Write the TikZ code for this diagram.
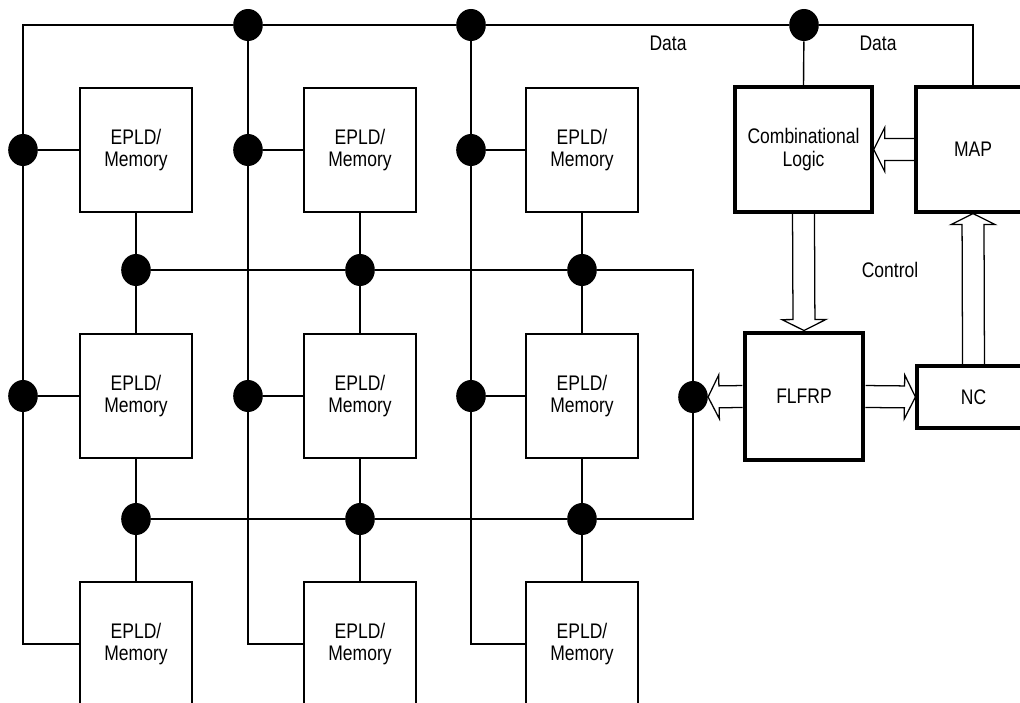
\documentclass[tikz,border=0pt]{standalone}
\usepackage{fontspec}
\newfontfamily\diagfont[FakeStretch=0.83]{Liberation Sans}
\usetikzlibrary{calc,shapes.geometric}

\begin{document}
\begin{tikzpicture}[
  x=0.025cm, y=-0.025cm,
  font=\diagfont\fontsize{15}{16}\selectfont,
  wire/.style={line width=1pt},
  memNode/.style={
    draw, line width=1pt, align=center, inner sep=0pt,
    minimum width=2.8cm, minimum height=3.1cm
  },
  blockNode/.style={
    draw, align=center, inner sep=0pt
  },
  dotNode/.style={
    ellipse, fill=black, inner sep=0pt,
    minimum width=0.74cm, minimum height=0.8cm
  },
  fat/.style={line width=0.9pt, to path={
    let \p1=(\tikztostart), \p2=(\tikztotarget),
        \n1={veclen(\x2-\x1,\y2-\y1)},
        \n2={(\x2-\x1)/\n1}, \n3={(\y2-\y1)/\n1},
        \n4={\n1-7.8} in
    ({\x1-\n3*7.8pt},{\y1+\n2*7.8pt})
    -- ({\x1+\n2*\n4*1pt-\n3*7.8pt},{\y1+\n3*\n4*1pt+\n2*7.8pt})
    -- ({\x1+\n2*\n4*1pt-\n3*15.6pt},{\y1+\n3*\n4*1pt+\n2*15.6pt})
    -- (\p2)
    -- ({\x1+\n2*\n4*1pt+\n3*15.6pt},{\y1+\n3*\n4*1pt-\n2*15.6pt})
    -- ({\x1+\n2*\n4*1pt+\n3*7.8pt},{\y1+\n3*\n4*1pt-\n2*7.8pt})
    -- ({\x1+\n3*7.8pt},{\y1-\n2*7.8pt})
  }}
]

\useasboundingbox (0,0) rectangle (1020,703);
\clip (0,0) rectangle (1020,703);

% --- EPLD/Memory grid ---
\foreach \r/\ry in {1/150, 2/396, 3/644}{
  \foreach \c/\cx in {1/136, 2/360, 3/582}{
    \node[memNode] (E\r\c) at (\cx, \ry) {EPLD/\\Memory};
  }
}

% --- Control side ---
\node[blockNode, line width=2.4pt, minimum width=3.425cm, minimum height=3.125cm]
  (Comb) at (803.5, 149.5) {Combinational\\Logic};
\node[blockNode, line width=2.2pt, minimum width=2.85cm, minimum height=3.125cm]
  (MAP) at (973, 149.5) {MAP};
\node[blockNode, line width=3.5pt, minimum width=2.95cm, minimum height=3.175cm]
  (FLFRP) at (804, 396.5) {FLFRP};
\node[blockNode, line width=2.2pt, minimum width=2.825cm, minimum height=1.55cm]
  (NC) at (973.5, 397) {NC};

% --- Bus dots ---
\coordinate (K) at (23, 25);
\node[dotNode] (T2) at (248, 25) {};
\node[dotNode] (T3) at (471, 25) {};
\node[dotNode] (T4) at (804, 25) {};
\foreach \r/\ry in {1/150, 2/396}{
  \foreach \c/\bx in {1/23, 2/248, 3/471}{
    \node[dotNode] (D\r\c) at (\bx, \ry) {};
  }
}
\foreach \r/\ry in {1/270, 2/519}{
  \foreach \c/\cx in {1/136, 2/360, 3/582}{
    \node[dotNode] (R\r\c) at (\cx, \ry) {};
  }
}
\node[dotNode] (S) at (693, 397) {};

% --- Data bus ---
\draw[wire] (E31.west) -| (K) -- (T2) -- (T3) -- (T4) -| (MAP.north);
\draw[wire] (E32.west) -| (T2);
\draw[wire] (E33.west) -| (T3);
\draw[wire] (T4) -- (Comb.north);
\foreach \r in {1,2}{
  \foreach \c in {1,2,3}{
    \draw[wire] (D\r\c) -- (E\r\c.west);
  }
}

% --- Links between rows ---
\foreach \c in {1,2,3}{
  \draw[wire] (E1\c.south) -- (R1\c) -- (E2\c.north);
  \draw[wire] (E2\c.south) -- (R2\c) -- (E3\c.north);
}
\draw[wire] (R11) -- (R12) -- (R13) -| (S) |- (R23) -- (R22) -- (R21);

% --- Wide arrows ---
\draw[fat] (MAP.west) to (Comb.east);
\draw[fat] (Comb.south) to (FLFRP.north);
\draw[fat] (NC.north) to (MAP.south);
\draw[fat] (FLFRP.west) to (S.east);
\draw[fat] (FLFRP.east) to (NC.west);

% --- Labels ---
\node (data1) at (668, 43) {Data};
\node (data2) at (878, 43) {Data};
\node (ctrl) at (890, 270) {Control};

\end{tikzpicture}
\end{document}
